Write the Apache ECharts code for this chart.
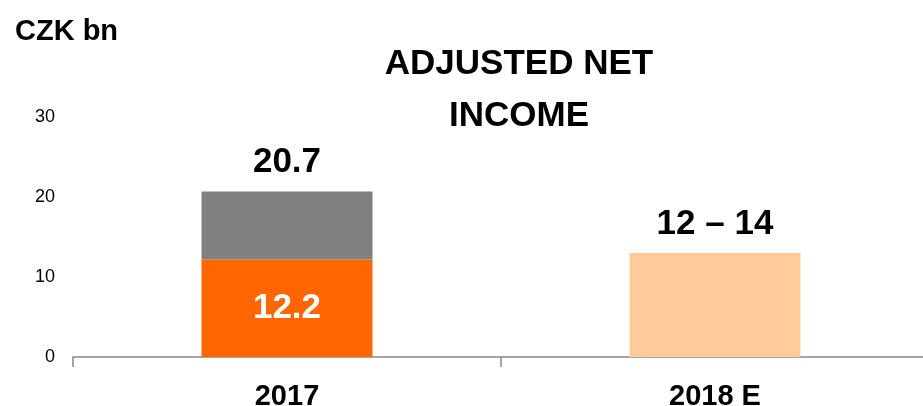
<!DOCTYPE html>
<html>
<head>
<meta charset="utf-8">
<script src="https://cdn.jsdelivr.net/npm/echarts@6/dist/echarts.min.js"></script>
<style>
  html, body { margin: 0; padding: 0; background: #fff; }
  #chart { width: 923px; height: 406px; }
</style>
</head>
<body>
<div id="chart"></div>
<script>
const categories = ["2017", "2018 E"];
const adjustedBase = [12.2, null];
const adjustedOther = [8.5, null];
const totals = [20.7, null];
const estimate = [null, 13];
const estimateLabel = "12 – 14";
const yTicks = [0, 10, 20, 30];

const font = "Liberation Sans, Arial, sans-serif";
const chart = echarts.init(document.getElementById("chart"));

chart.setOption({
  animation: false,
  textStyle: { fontFamily: font },
  title: [
    {
      text: "CZK bn",
      left: 10, top: 12,
      textStyle: { fontFamily: font, fontSize: 29, fontWeight: "bold", color: "#000" }
    },
    {
      text: "ADJUSTED NET\nINCOME",
      left: 514, top: 33, textAlign: "center",
      textStyle: { fontFamily: font, fontSize: 35, fontWeight: "bold", color: "#000", lineHeight: 52 }
    }
  ],
  // the second category runs past the right edge of the canvas
  grid: { left: 73, width: 856, top: 117, bottom: 49, outerBoundsMode: "none" },
  xAxis: {
    type: "category",
    data: categories,
    axisLine: { lineStyle: { color: "#888", width: 1.5 } },
    axisTick: { show: true, length: 10, lineStyle: { color: "#888", width: 1.5 } },
    axisLabel: { color: "#000", fontFamily: font, fontSize: 29, fontWeight: "bold", margin: 25 }
  },
  yAxis: {
    type: "value",
    min: yTicks[0], max: yTicks[yTicks.length - 1], interval: 10,
    axisLine: { show: false },
    axisTick: { show: false },
    splitLine: { show: false },
    axisLabel: { color: "#000", fontFamily: font, fontSize: 18, margin: 18 }
  },
  series: [
    {
      type: "bar", stack: "a", barWidth: 171,
      data: adjustedBase,
      itemStyle: { color: "#FF6600" },
      label: {
        show: true, position: "inside", color: "#fff",
        fontFamily: font, fontSize: 35, fontWeight: "bold",
        formatter: p => p.value == null ? "" : p.value.toFixed(1)
      }
    },
    {
      type: "bar", stack: "a", barWidth: 171,
      data: adjustedOther,
      itemStyle: { color: "#808080" },
      label: {
        show: true, position: "top", distance: 12, color: "#000",
        fontFamily: font, fontSize: 35, fontWeight: "bold",
        formatter: p => totals[p.dataIndex] == null ? "" : totals[p.dataIndex].toFixed(1)
      }
    },
    {
      type: "bar", stack: "a", barWidth: 171,
      data: estimate,
      itemStyle: { color: "#FFCC99" },
      label: {
        show: true, position: "top", distance: 11, color: "#000",
        fontFamily: font, fontSize: 35, fontWeight: "bold",
        formatter: p => p.value == null ? "" : estimateLabel
      }
    }
  ]
});
</script>
</body>
</html>
